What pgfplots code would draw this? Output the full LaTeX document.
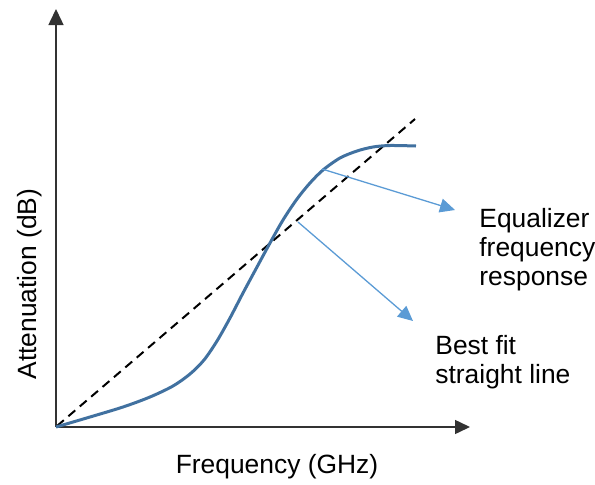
\documentclass[border=0pt]{standalone}
\usepackage{fontspec}
\setmainfont{Liberation Sans}
\usepackage{pgfplots}
\pgfplotsset{compat=1.18}
\usetikzlibrary{arrows.meta}
\definecolor{curveblue}{RGB}{65,113,160}
\definecolor{arrowblue}{RGB}{91,155,213}
\definecolor{axisgray}{RGB}{50,50,50}
\begin{document}
\begin{tikzpicture}
\begin{axis}[
  scale only axis,
  width=207pt, height=209pt,
  xmin=0, xmax=414, ymin=0, ymax=418,
  axis x line*=bottom, axis y line*=left,
  x axis line style={axisgray, line width=0.75pt, -{Triangle[length=7.5pt,width=7pt]}},
  y axis line style={axisgray, line width=0.75pt, -{Triangle[length=8pt,width=7.5pt]}},
  xtick=\empty, ytick=\empty,
  clip=false,
  font=\fontsize{13.2}{15}\selectfont,
]
% best fit straight line
\addplot[black, line width=1pt, dash pattern=on 4.5pt off 3pt] coordinates {(1,1) (359,308)};
% equalizer frequency response
\addplot[curveblue, line width=1.5pt, smooth] coordinates {
(0,0) (34,10) (67,20) (94,30) (117,41) (134,53) (148,67) (161,86) (174,109)
(187,134) (201,160) (214,184) (227,207) (241,228) (254,244) (267,257)
(284,269) (301,276) (317,280) (334,281.5) (360,281)};
% annotation arrows
\addplot[arrowblue, line width=0.65pt, -{Triangle[length=7.5pt,width=7pt]}] coordinates {(266,258) (399,217)};
\addplot[arrowblue, line width=0.65pt, -{Triangle[length=7.5pt,width=7pt]}] coordinates {(242,205) (357,106)};
% labels
\node[anchor=base west, inner sep=0pt] at (axis cs:423,200) {Equalizer};
\node[anchor=base west, inner sep=0pt] at (axis cs:423,171) {frequency};
\node[anchor=base west, inner sep=0pt] at (axis cs:423,142) {response};
\node[anchor=base west, inner sep=0pt] at (axis cs:379,73) {Best fit};
\node[anchor=base west, inner sep=0pt] at (axis cs:379,44) {straight line};
\node[anchor=base, inner sep=0pt] at (axis cs:221,-46) {Frequency (GHz)};
\node[anchor=base, inner sep=0pt, rotate=90] at (axis cs:-19,143) {Attenuation (dB)};
\coordinate (bl) at (axis cs:-56,-57);
\coordinate (tr) at (axis cs:539,427);
\end{axis}
\pgfresetboundingbox
\path (bl) rectangle (tr);
\end{tikzpicture}
\end{document}
